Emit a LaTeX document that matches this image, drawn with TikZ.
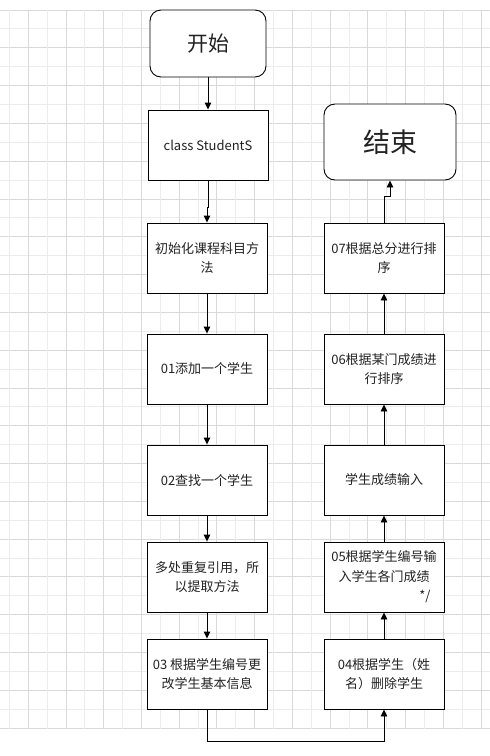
\documentclass[tikz,border=0pt]{standalone}
\usepackage{fontspec}
\setmainfont{Noto Sans CJK SC}
\usetikzlibrary{arrows.meta,calc}
\definecolor{gridmajor}{HTML}{D9D9D9}
\definecolor{gridminor}{HTML}{ECECEC}
\definecolor{txt}{HTML}{222222}
\tikzset{
  procbox/.style={draw=black, line width=0.9pt, fill=white, minimum width=120pt, minimum height=70pt,
    inner sep=0pt, align=center, text=txt, font=\fontsize{13}{19.5}\selectfont},
  termbox/.style={draw=black, line width=0.9pt, fill=white, rounded corners=11pt, inner sep=0pt,
    align=center, text=txt},
  flow/.style={draw=black, line width=0.9pt, -{Triangle[length=7pt,width=6.5pt]}},
  gmaj/.style={draw=gridmajor, line width=0.8pt},
  gmin/.style={draw=gridminor, line width=0.8pt}
}
\begin{document}
\begin{tikzpicture}[x=1pt,y=-1pt]
\useasboundingbox (0,0) rectangle (490,756);
\fill[white] (0,0) rectangle (490,756);
% grid
\foreach \k in {0,...,38}{
  \pgfmathsetmacro{\yy}{10+18.895*\k}
  \pgfmathtruncatemacro{\gpar}{mod(\k,2)}
  \ifnum\gpar=0 \draw[gmaj] (0,\yy) -- (490,\yy); \else \draw[gmin] (0,\yy) -- (490,\yy); \fi
}
\foreach \k in {0,...,25}{
  \pgfmathsetmacro{\xx}{9.3+18.87*\k}
  \pgfmathtruncatemacro{\gpar}{mod(\k,2)}
  \ifnum\gpar=1 \draw[gmaj] (\xx,10) -- (\xx,728.5); \else \draw[gmin] (\xx,10) -- (\xx,728.5); \fi
}
% left column
\node[termbox, minimum width=116pt, minimum height=67pt, font=\fontsize{21}{25}\selectfont] (start) at (208,43.5) {开始};
\node[procbox] (cls) at (208,145) {class StudentS};
\node[procbox] (init) at (207,258) {初始化课程科目方\\法};
\node[procbox] (s01) at (207,369) {01添加一个学生};
\node[procbox] (s02) at (207,480) {02查找一个学生};
\node[procbox] (dup) at (207,577) {多处重复引用，所\\以提取方法};
\node[procbox] (s03) at (207,674) {03 根据学生编号更\\改学生基本信息};
% right column
\node[procbox] (s04) at (384,674) {04根据学生（姓\\名）删除学生};
\node[procbox] (s05) at (384,577) {05根据学生编号输\\入学生各门成绩\\\hspace*{82pt}*/};
\node[procbox] (inp) at (384,480) {学生成绩输入};
\node[procbox] (s06) at (384,369) {06根据某门成绩进\\行排序};
\node[procbox] (s07) at (384,258) {07根据总分进行排\\序};
\node[termbox, minimum width=132pt, minimum height=76pt, font=\fontsize{27}{32}\selectfont] (end) at (390,142) {结束};
% connectors
\draw[flow] (start.south) -- (cls.north);
\coordinate (j1) at ($(cls.south)+(0,27)$);
\draw[flow] (cls.south) -- (j1) -| (init.north);
\draw[flow] (init.south) -- (s01.north);
\draw[flow] (s01.south) -- (s02.north);
\draw[flow] (s02.south) -- (dup.north);
\draw[flow] (dup.south) -- (s03.north);
\coordinate (b1) at ($(s03.south)+(0,32)$);
\draw[flow] (s03.south) -- (b1) -| (s04.south);
\draw[flow] (s04.north) -- (s05.south);
\draw[flow] (s05.north) -- (inp.south);
\draw[flow] (inp.north) -- (s06.south);
\draw[flow] (s06.north) -- (s07.south);
\coordinate (j2) at ($(s07.north)+(0,-26)$);
\draw[flow] (s07.north) -- (j2) -| (end.south);
\end{tikzpicture}
\end{document}
